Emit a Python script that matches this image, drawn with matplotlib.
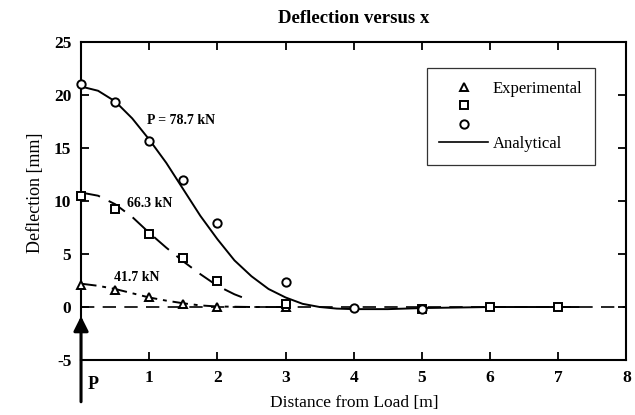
import matplotlib
matplotlib.use("Agg")
import matplotlib.pyplot as plt
from matplotlib.lines import Line2D

plt.rcParams['font.family'] = ['Liberation Serif', 'DejaVu Serif']
plt.rcParams['axes.unicode_minus'] = False

tri_x = [0, 0.5, 1, 1.5, 2, 3]
tri_y = [2.1, 1.6, 0.9, 0.3, 0.0, 0.0]
sq_x = [0, 0.5, 1, 1.5, 2, 3, 5, 6, 7]
sq_y = [10.5, 9.2, 6.9, 4.6, 2.5, 0.3, -0.2, 0.0, 0.0]
circ_x = [0, 0.5, 1, 1.5, 2, 3, 4, 5]
circ_y = [21.0, 19.3, 15.7, 12.0, 7.9, 2.4, -0.1, -0.2]

# analytical curves
an787_x = [0, 0.25, 0.5, 0.75, 1, 1.25, 1.5, 1.75, 2, 2.25, 2.5, 2.75, 3, 3.25, 3.5, 3.75, 4, 4.5, 5, 6, 7, 7.3]
an787_y = [20.8, 20.4, 19.4, 17.8, 15.8, 13.6, 11.1, 8.6, 6.4, 4.4, 2.9, 1.7, 0.9, 0.3, 0.0, -0.15, -0.2, -0.2, -0.1, 0, 0, 0]
an663_x = [0, 0.25, 0.5, 0.75, 1, 1.25, 1.5, 1.75, 2, 2.25, 2.45]
an663_y = [10.8, 10.5, 9.7, 8.5, 7.0, 5.6, 4.3, 3.1, 2.0, 1.2, 0.7]
an417_x = [0, 0.25, 0.5, 0.75, 1, 1.25, 1.5, 1.75, 2, 2.5, 3]
an417_y = [2.2, 2.0, 1.7, 1.3, 0.9, 0.6, 0.35, 0.15, 0.05, 0.0, 0.0]

x_ticks = [1, 2, 3, 4, 5, 6, 7, 8]
y_ticks = [-5, 0, 5, 10, 15, 20, 25]

fig = plt.figure(figsize=(6.35, 4.15), dpi=100)
ax = fig.add_axes([0.1276, 0.1325, 0.859, 0.7663])

ax.plot([0, 8], [0, 0], color='k', lw=1.2, dashes=(8, 5))
ax.plot(an787_x, an787_y, color='k', lw=1.4)
ax.plot(an663_x, an663_y, color='k', lw=1.4, dashes=(10, 5))
ax.plot(an417_x, an417_y, color='k', lw=1.4, dashes=(8, 3, 2, 3))

mk = dict(linestyle='none', markerfacecolor='white', markeredgecolor='k', markeredgewidth=1.4, clip_on=False, zorder=5)
ax.plot(tri_x, tri_y, marker='^', ms=6, **mk)
ax.plot(sq_x, sq_y, marker='s', ms=6, **mk)
ax.plot(circ_x, circ_y, marker='o', ms=6, **mk)

ax.text(0.97, 17.6, 'P = 78.7 kN', fontsize=10, fontweight='bold', va='center')
ax.text(0.68, 9.8, '66.3 kN', fontsize=10, fontweight='bold', va='center')
ax.text(0.49, 2.8, '41.7 kN', fontsize=10, fontweight='bold', va='center')

# load arrow
ax.annotate('', xy=(0, -0.6), xytext=(0, -9.2),
            arrowprops=dict(arrowstyle='-|>', lw=2.2, mutation_scale=22, color='k'),
            annotation_clip=False)
ax.text(0.09, -7.3, 'P', fontsize=13, fontweight='bold', va='center', ha='left')

ax.set_xlim(0, 8)
ax.set_ylim(-5, 25)
ax.set_xticks(x_ticks)
ax.set_yticks(y_ticks)
ax.tick_params(direction='in', top=True, right=True, length=6, width=1.3, labelsize=12.5, pad=7)
for lab in ax.get_xticklabels() + ax.get_yticklabels():
    lab.set_fontweight('bold')
for s in ax.spines.values():
    s.set_linewidth(1.5)

ax.set_title('Deflection versus x', fontsize=13.5, fontweight='bold', pad=14)
ax.set_xlabel('Distance from Load [m]', fontsize=12.5, labelpad=7)
ax.set_ylabel('Deflection [mm]', fontsize=13)
ax.yaxis.set_label_coords(-0.068, 0.525)

handles = [
    Line2D([], [], marker='^', ls='none', ms=6, mfc='white', mec='k', mew=1.4),
    Line2D([], [], marker='s', ls='none', ms=6, mfc='white', mec='k', mew=1.4),
    Line2D([], [], marker='o', ls='none', ms=6, mfc='white', mec='k', mew=1.4),
    Line2D([], [], color='k', lw=1.2),
]
labels = ['Experimental', '', '', 'Analytical']
leg = ax.legend(handles, labels, loc='upper left', bbox_to_anchor=(0.634, 0.918),
                fontsize=12, frameon=True, fancybox=False, handlelength=2.9,
                labelspacing=0.15, borderpad=0.75, handletextpad=0.3, borderaxespad=0)
leg.get_frame().set_edgecolor('k')
leg.get_frame().set_linewidth(0.9)

fig.savefig('out.png', dpi=100)
